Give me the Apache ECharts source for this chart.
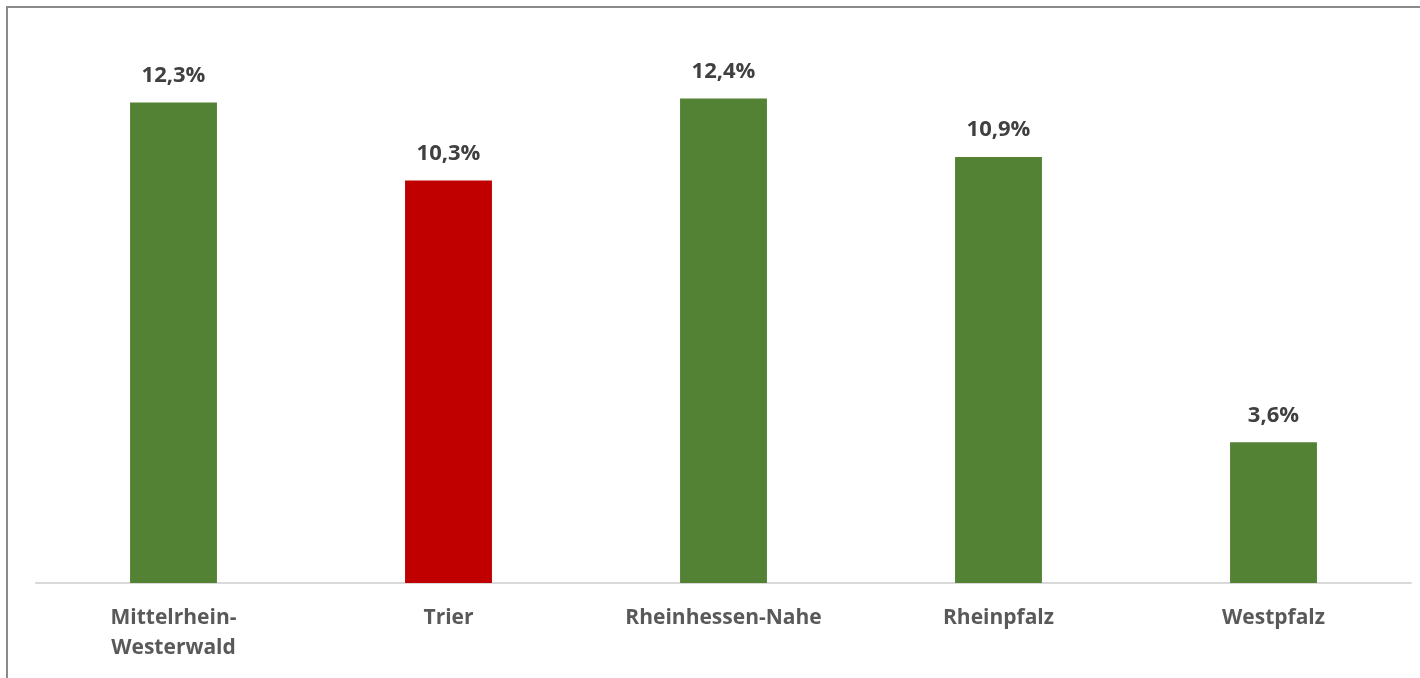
<!DOCTYPE html>
<html>
<head>
<meta charset="utf-8">
<script src="https://cdn.jsdelivr.net/npm/echarts@6/dist/echarts.min.js"></script>
<style>
html,body{margin:0;padding:0;background:#fff;}
#c{width:1420px;height:678px;}
</style>
</head>
<body>
<div id="c"></div>
<script>
const categories = ['Mittelrhein-\nWesterwald', 'Trier', 'Rheinhessen-Nahe', 'Rheinpfalz', 'Westpfalz'];
const values = [12.3, 10.3, 12.4, 10.9, 3.6];
const barColors = ['#548235', '#C00000', '#548235', '#548235', '#548235'];

const chart = echarts.init(document.getElementById('c'), null, {renderer: 'canvas'});
chart.setOption({
  backgroundColor: '#fff',
  animation: false,
  graphic: [{
    type: 'rect',
    shape: {x: 7, y: 7, width: 1430, height: 700},
    style: {fill: 'none', stroke: '#8a8a8a', lineWidth: 2},
    z: 100
  }],
  grid: {left: 36, right: 9, top: 34, bottom: 95, containLabel: false},
  xAxis: {
    type: 'category',
    data: categories,
    axisLine: {show: true, lineStyle: {color: '#d9d9d9', width: 2}},
    axisTick: {show: false},
    axisLabel: {
      color: '#595959',
      fontFamily: 'Open Sans',
      fontWeight: 'bold',
      fontSize: 21,
      lineHeight: 30,
      margin: 20,
      interval: 0
    }
  },
  yAxis: {
    type: 'value',
    min: 0,
    max: 14.05,
    show: false,
    splitLine: {show: false}
  },
  series: [{
    type: 'bar',
    barWidth: '31.6%',
    data: values.map((v, i) => ({value: v, itemStyle: {color: barColors[i]}})),
    label: {
      show: true,
      position: 'top',
      distance: 16,
      color: '#404040',
      fontFamily: 'Open Sans',
      fontWeight: 'bold',
      fontSize: 22,
      formatter: p => p.value.toFixed(1).replace('.', ',') + '%'
    }
  }]
});
</script>
</body>
</html>
